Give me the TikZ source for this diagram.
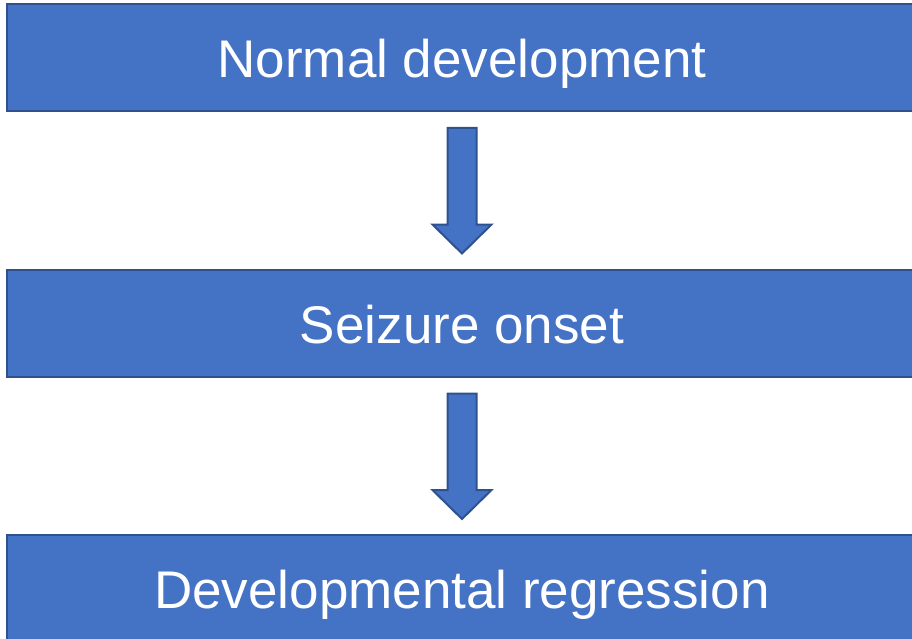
\documentclass[tikz,border=0pt]{standalone}
\usepackage{fontspec}
\setmainfont{Liberation Sans}
\usetikzlibrary{calc}
\definecolor{boxfill}{HTML}{4472C4}
\definecolor{boxline}{HTML}{2F528F}
\tikzset{
  stage/.style={draw=boxline, fill=boxfill, line width=2pt, minimum width=910pt,
    minimum height=107pt, inner sep=0pt, text height=52pt, text depth=12pt,
    text=white, font=\fontsize{53}{60}\selectfont},
  blockarrow/.style={draw=boxline, fill=boxfill, line width=2pt, line join=miter}
}
% thick down arrow from the bottom of #1 to the top of #2
\newcommand\flowarrow[2]{%
  \draw[blockarrow]
    ($(#1.south)+(-14.5,16)$) -- ($(#1.south)+(14.5,16)$)
    -- ($(#2.north)+(14.5,-44)$) -- ($(#2.north)+(29.5,-44)$)
    -- ($(#2.north)+(0,-15)$)
    -- ($(#2.north)+(-29.5,-44)$) -- ($(#2.north)+(-14.5,-44)$) -- cycle;}
\begin{document}
\begin{tikzpicture}[x=1pt,y=-1pt]
  \useasboundingbox (0,0) rectangle (912,639);
  \clip (0,0) rectangle (912,639);
  \node[stage] (normal) at (462,57.5) {Normal development};
  \node[stage] (onset) at (462,323) {Seizure onset};
  \node[stage] (regress) at (462,588.5) {Developmental regression};
  \flowarrow{normal}{onset}
  \flowarrow{onset}{regress}
\end{tikzpicture}
\end{document}
